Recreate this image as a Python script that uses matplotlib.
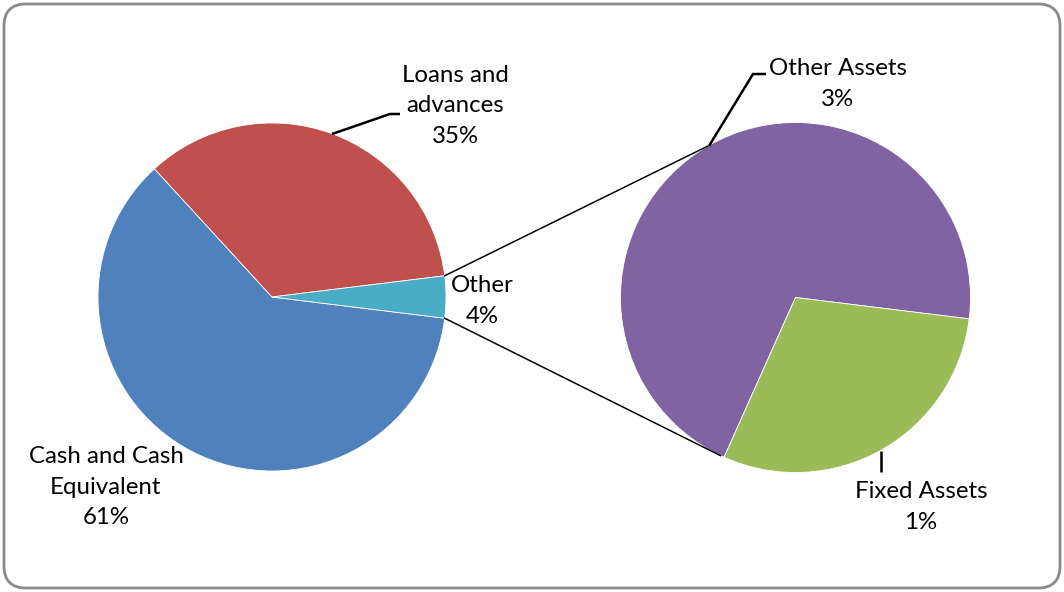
import numpy as np
import matplotlib
matplotlib.use("Agg")
import matplotlib.pyplot as plt
from matplotlib.patches import FancyBboxPatch

# Composition of assets (percent of total)
main_labels = ["Cash and Cash\nEquivalent", "Loans and\nadvances", "Other"]
main_values = [61.3, 34.9, 3.9]
main_colors = ["#4F81BD", "#C0504D", "#4BACC6"]

other_labels = ["Other Assets", "Fixed Assets"]
other_values = [2.74, 1.16]
other_colors = ["#8064A2", "#9BBB59"]

W, H = 1064, 592
fig = plt.figure(figsize=(W / 100, H / 100), dpi=100)
ax = fig.add_axes([0, 0, 1, 1])
ax.set_xlim(0, W)
ax.set_ylim(0, H)
ax.set_aspect("equal")
ax.axis("off")

plt.rcParams["font.family"] = ["Lato", "DejaVu Sans"]
FS = 17.3

# outer frame
frame = FancyBboxPatch((4, 4), W - 8, H - 8,
                       boxstyle="round,pad=0,rounding_size=22",
                       fc="white", ec="#8a8a8a", lw=2.0, zorder=0)
ax.add_patch(frame)

c1, r1 = (272, 295), 174
c2, r2 = (795.5, 294.5), 175

# main pie: the "Other" slice is centred on the 3 o'clock direction
other_share = main_values[2] / sum(main_values) * 360
start1 = -other_share / 2
ax.pie(main_values, colors=main_colors, center=c1, radius=r1,
       startangle=start1, counterclock=False,
       wedgeprops=dict(edgecolor="white", linewidth=0.6), frame=True)

# secondary pie breaking down "Other"
fixed_share = other_values[1] / sum(other_values) * 360
start2 = -other_share / 2 - fixed_share
ax.pie(other_values, colors=other_colors, center=c2, radius=r2,
       startangle=start2, counterclock=False,
       wedgeprops=dict(edgecolor="white", linewidth=0.6), frame=True)
ax.set_xlim(0, W)
ax.set_ylim(0, H)
ax.axis("off")


def pt(c, r, deg):
    a = np.deg2rad(deg)
    return c[0] + r * np.cos(a), c[1] + r * np.sin(a)


# connector lines between the two pies
a_top, a_bot = other_share / 2, -other_share / 2
for a1, a2 in [(a_top, 120.2), (a_bot, -115.4)]:
    x0, y0 = pt(c1, r1, a1)
    x1, y1 = pt(c2, r2, a2)
    ax.plot([x0, x1], [y0, y1], color="black", lw=1.1, zorder=5)

# leader lines for outside labels
lead_kw = dict(color="black", lw=1.8, solid_capstyle="butt", zorder=5)
ax.plot([332, 390, 400], [H - 134, H - 114, H - 114], **lead_kw)
ax.plot([709, 753, 766], [H - 146, H - 74, H - 74], **lead_kw)
ax.plot([881, 881], [H - 451, H - 472], **lead_kw)


def pct(v, tot):
    return f"{v / tot * 100:.0f}%"


tot = sum(main_values)
txt_kw = dict(ha="center", va="center", fontsize=FS, color="black",
              linespacing=1.55, zorder=6)
ax.text(455, H - 106, f"{main_labels[1]}\n{pct(main_values[1], tot)}", **txt_kw)
ax.text(482, H - 301, f"{main_labels[2]}\n{pct(main_values[2], tot)}", **txt_kw)
ax.text(106, H - 487, f"{main_labels[0]}\n{pct(main_values[0], tot)}", **txt_kw)
ax.text(838, H - 84, f"{other_labels[0]}\n{pct(other_values[0], tot)}", **txt_kw)
ax.text(921, H - 507, f"{other_labels[1]}\n{pct(other_values[1], tot)}", **txt_kw)

fig.savefig("out.png", dpi=100)
